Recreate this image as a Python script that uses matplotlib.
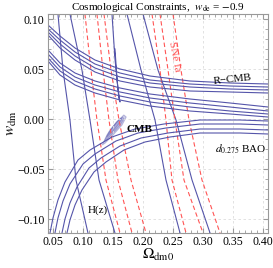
import matplotlib
matplotlib.use("Agg")
import matplotlib.pyplot as plt

# ---- data ----
# steep constraints, sampled at these w_dm values
w_steep = [0.105, 0.049, -0.001, -0.061, -0.114]
hz_lines = [
    [0.0583, 0.0667, 0.0783, 0.0883, 0.1083],
    [0.0783, 0.0983, 0.1117, 0.1267, 0.1533],
    [0.1733, 0.1967, 0.2200, 0.2383, 0.2617],
    [0.2000, 0.2250, 0.2550, 0.2817, 0.3117],
]
sne_lines = [
    [0.1033, 0.1133, 0.1233, 0.1383, 0.1617],
    [0.1233, 0.1333, 0.1433, 0.1583, 0.1817],
    [0.1350, 0.1467, 0.1600, 0.1800, 0.2050],
    [0.2150, 0.2283, 0.2383, 0.2483, 0.2717],
    [0.2283, 0.2417, 0.2533, 0.2683, 0.3000],
    [0.2500, 0.2633, 0.2767, 0.2983, 0.3283],
]
# hooked inner H(z) contour
hook_x = [0.1483, 0.1533, 0.1583, 0.1617, 0.1600, 0.1567, 0.1533]
hook_y = [0.105, 0.060, 0.030, 0.017, 0.020, 0.040, 0.070]

# R-CMB band and upper BAO edges, sampled at these Omega values
om_flat = [0.0417, 0.0617, 0.0867, 0.12, 0.1617, 0.2117, 0.2783, 0.345, 0.4083]
rcmb_lines = [
    [0.094, 0.083, 0.071, 0.059, 0.050, 0.043, 0.038, 0.036, 0.035],
    [0.090, 0.079, 0.067, 0.055, 0.046, 0.039, 0.035, 0.033, 0.032],
    [0.087, 0.075, 0.063, 0.051, 0.042, 0.036, 0.032, 0.030, 0.029],
    [0.084, 0.071, 0.059, 0.047, 0.038, 0.032, 0.028, 0.027, 0.026],
]
bao_upper = [
    [0.069, 0.056, 0.046, 0.038, 0.031, 0.025, 0.020, 0.016, 0.012],
    [0.065, 0.052, 0.042, 0.034, 0.027, 0.021, 0.016, 0.012, 0.008],
    [0.061, 0.048, 0.038, 0.030, 0.023, 0.017, 0.012, 0.008, 0.005],
    [0.058, 0.044, 0.034, 0.026, 0.019, 0.013, 0.008, 0.005, 0.002],
]
# BAO lower arcs
arc_x = [
    [0.045, 0.05, 0.0583, 0.07, 0.0917, 0.1117, 0.1483, 0.1867, 0.235, 0.295, 0.3617, 0.4083],
    [0.0533, 0.0583, 0.0667, 0.0783, 0.10, 0.12, 0.155, 0.1917, 0.2383, 0.295, 0.3617, 0.4083],
    [0.065, 0.07, 0.0783, 0.09, 0.11, 0.13, 0.1617, 0.1967, 0.2417, 0.295, 0.3617, 0.4083],
    [0.0733, 0.0783, 0.0867, 0.0983, 0.1183, 0.1383, 0.1683, 0.2033, 0.245, 0.295, 0.3617, 0.4083],
]
arc_y = [
    [-0.114, -0.099, -0.081, -0.063, -0.041, -0.031, -0.018, -0.010, -0.005, -0.001, -0.001, -0.002],
    [-0.114, -0.099, -0.082, -0.065, -0.045, -0.035, -0.022, -0.014, -0.009, -0.005, -0.005, -0.006],
    [-0.114, -0.100, -0.084, -0.068, -0.049, -0.039, -0.027, -0.019, -0.014, -0.010, -0.010, -0.011],
    [-0.114, -0.101, -0.086, -0.071, -0.053, -0.043, -0.031, -0.023, -0.018, -0.014, -0.014, -0.015],
]
# small CMB contours
cmb_x = [[0.132, 0.140, 0.155, 0.168, 0.172, 0.165, 0.150, 0.137, 0.132],
         [0.136, 0.143, 0.156, 0.166, 0.168, 0.162, 0.150, 0.140, 0.136],
         [0.140, 0.147, 0.158, 0.164, 0.164, 0.158, 0.150, 0.143, 0.140]]
cmb_y = [[-0.026, -0.016, -0.004, 0.004, 0.002, -0.006, -0.016, -0.024, -0.026],
         [-0.022, -0.013, -0.003, 0.002, 0.000, -0.006, -0.014, -0.020, -0.022],
         [-0.018, -0.010, -0.002, 0.001, -0.001, -0.006, -0.012, -0.016, -0.018]]

xticks = [0.05, 0.10, 0.15, 0.20, 0.25, 0.30, 0.35, 0.40]
yticks = [-0.10, -0.05, 0.00, 0.05, 0.10]

blue = "#5555aa"
red = "#ff5555"
serif = "Liberation Serif"
plt.rcParams["mathtext.fontset"] = "stix"

fig = plt.figure(figsize=(2.73, 2.68), dpi=100)
ax = fig.add_axes([48/273, 1-233/268, 220/273, 219/268])
ax.set_xlim(0.0417, 0.4083)
ax.set_ylim(-0.114, 0.105)

for xs in hz_lines:
    ax.plot(xs, w_steep, color=blue, lw=0.8)
ax.plot(hook_x, hook_y, color=blue, lw=0.8)
for xs in sne_lines:
    ax.plot(xs, w_steep, color=red, lw=0.8, ls=(0, (4, 2.5)))
for ys in rcmb_lines:
    ax.plot(om_flat, ys, color=blue, lw=0.8)
for ys in bao_upper:
    ax.plot(om_flat, ys, color=blue, lw=0.8)
for xs, ys in zip(arc_x, arc_y):
    ax.plot(xs, ys, color=blue, lw=0.8)
for xs, ys in zip(cmb_x, cmb_y):
    ax.fill(xs, ys, color="#8888cc", alpha=0.35, lw=0.8, ec=blue)

ax.set_xticks(xticks)
ax.set_xticklabels([f"{t:.2f}" for t in xticks])
ax.set_yticks(yticks)
ax.set_yticklabels([f"{t:.2f}".replace("-", "\u2212") for t in yticks])
ax.minorticks_on()
ax.tick_params(which="both", direction="in", top=True, right=True, labelsize=8.5,
               color="#999999", pad=2.5)
ax.tick_params(which="major", length=3.5)
ax.tick_params(which="minor", length=2)
ax.grid(True, which="major", ls=(0, (3, 3)), color="#dddddd", lw=0.6)
for s in ax.spines.values():
    s.set_color("#999999")
    s.set_linewidth(0.8)

ax.set_title(r"Cosmological Constraints,  $w_{\rm de}$ = $-$0.9", fontsize=8,
             family=serif, pad=1.5)
ax.set_xlabel(r"$\Omega_{\rm dm0}$", fontsize=11)
ax.xaxis.set_label_coords(0.5, -0.065)
ax.set_ylabel(r"$w_{\rm dm}$", fontsize=11)
ax.yaxis.set_label_coords(-0.13, 0.5)

ax.text(0.316, 0.035, "R\u2212CMB", fontsize=8, family=serif, rotation=6)
ax.text(0.172, -0.013, "CMB", fontsize=8, family=serif, weight="bold")
ax.text(0.32, -0.034, r"$d_{0.275}$ BAO", fontsize=8, family=serif)
ax.text(0.108, -0.094, "H(z)", fontsize=8, family=serif)
ax.text(0.2525, 0.063, "SNe Ia", fontsize=8, family=serif,
        color=red, rotation=-79, ha="center", va="center")

for lab in ax.get_xticklabels() + ax.get_yticklabels():
    lab.set_family(serif)

fig.savefig("out.png", dpi=100)
